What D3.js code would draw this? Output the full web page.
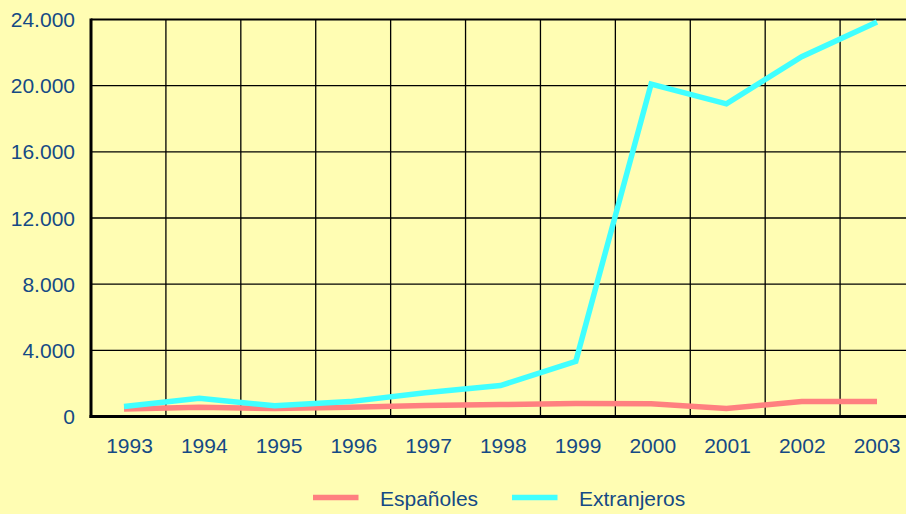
<!DOCTYPE html>
<html><head><meta charset="utf-8">
<script src="https://cdn.jsdelivr.net/npm/d3@7"></script>
<style>
html,body{margin:0;padding:0;background:#FFFDB3;}
svg{display:block;}
text{font-family:"Liberation Sans",Arial,sans-serif;fill:#154A85;}
</style></head>
<body>
<svg id="c" width="906" height="514"></svg>
<script>
const years = ["1993","1994","1995","1996","1997","1998","1999","2000","2001","2002","2003"];
const espanoles = [450, 560, 480, 560, 660, 720, 790, 770, 480, 900, 910];
const extranjeros = [600, 1100, 650, 900, 1430, 1870, 3340, 20100, 18900, 21750, 23850];
const yTicks = [0, 4000, 8000, 12000, 16000, 20000, 24000];
const seriesNames = ["Españoles", "Extranjeros"];
const seriesColors = ["#FF8080", "#40FFFF"];

const svg = d3.select("#c");
svg.append("rect").attr("width",906).attr("height",514).attr("fill","#FFFDB3");

const band = d3.scaleBand().domain(years).range([91, 915]).paddingInner(0).paddingOuter(0);
const xPt = d3.scalePoint().domain(years).range([124, 877]);
const xLab = d3.scalePoint().domain(years).range([129.5, 877]);
const y = d3.scaleLinear().domain([0, 24000]).range([416.5, 19.5]);

const fmt = v => d3.format(",")(v).replace(/,/g, ".");

// horizontal gridlines
svg.append("g").selectAll("line").data(yTicks.filter(v => v > 0)).join("line")
  .attr("x1", 91).attr("x2", 915)
  .attr("y1", d => y(d)).attr("y2", d => y(d))
  .attr("stroke", "#000").attr("stroke-width", d => d === 24000 ? 2 : 1.3);

// vertical gridlines
const bounds = years.map(d => band(d)).concat([band(years[years.length-1]) + band.bandwidth()]);
svg.append("g").selectAll("line").data(bounds.slice(1)).join("line")
  .attr("x1", d => d).attr("x2", d => d)
  .attr("y1", y(24000)).attr("y2", y(0))
  .attr("stroke", "#000").attr("stroke-width", 1.3);

// axes lines
svg.append("line").attr("x1", 91).attr("x2", 91).attr("y1", y(24000) - 1).attr("y2", y(0) + 1.5)
  .attr("stroke", "#000").attr("stroke-width", 3);
svg.append("line").attr("x1", 89.5).attr("x2", 915).attr("y1", y(0)).attr("y2", y(0))
  .attr("stroke", "#000").attr("stroke-width", 3);

// y tick labels
svg.append("g").selectAll("text").data(yTicks).join("text")
  .attr("x", 75).attr("y", d => y(d) + 7.5)
  .attr("text-anchor", "end").attr("font-size", 21)
  .text(d => fmt(d));

// x tick labels
svg.append("g").selectAll("text").data(years).join("text")
  .attr("x", d => xLab(d)).attr("y", 453)
  .attr("text-anchor", "middle").attr("font-size", 21)
  .text(d => d);

// lines
const line = d3.line().x((d, i) => xPt(years[i])).y(d => y(d));
[espanoles, extranjeros].forEach((s, i) => {
  svg.append("path").attr("d", line(s)).attr("fill", "none")
    .attr("stroke", seriesColors[i]).attr("stroke-width", 5.5)
    .attr("stroke-linejoin", "miter").attr("stroke-linecap", "butt");
});

// legend
const legX = [313, 512];
const lg = svg.append("g");
seriesNames.forEach((n, i) => {
  lg.append("line").attr("x1", legX[i]).attr("x2", legX[i] + 45.5)
    .attr("y1", 497.5).attr("y2", 497.5)
    .attr("stroke", seriesColors[i]).attr("stroke-width", 5.5);
  lg.append("text").attr("x", legX[i] + 67).attr("y", 505.5)
    .attr("font-size", 21).text(n);
});
</script>
</body></html>
